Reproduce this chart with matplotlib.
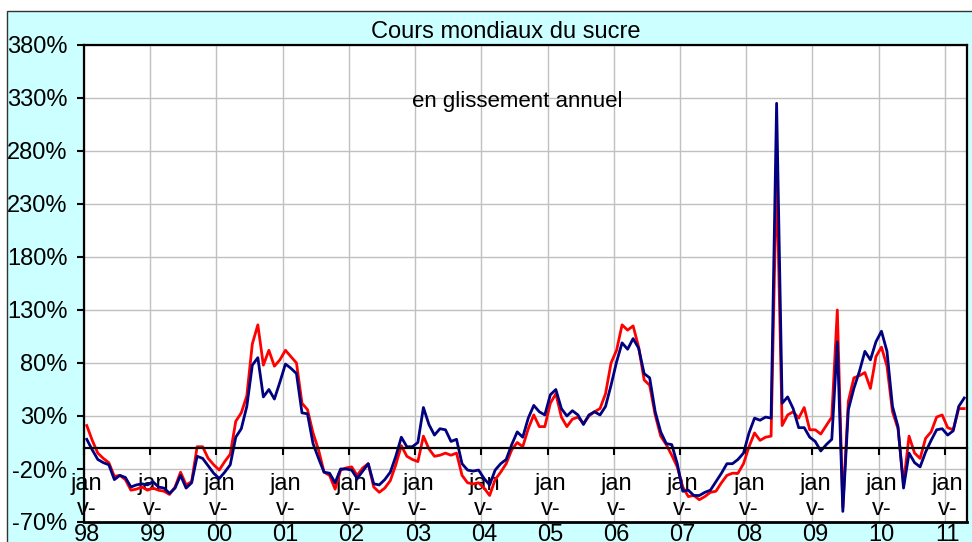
import matplotlib
matplotlib.use("Agg")
import matplotlib.pyplot as plt
from matplotlib.patches import Rectangle
import numpy as np

plt.rcParams['font.family'] = ['Liberation Sans', 'DejaVu Sans']

# Monthly data Jan 1998 .. Apr 2011 (year-on-year change, %)
serie_bleue = [
    8, -2, -11, -14, -16, -30, -26, -28, -37, -35, -34, -35,
    -32, -37, -38, -43, -38, -26, -38, -33, -8, -10, -17, -24,
    -29, -23, -16, 10, 18, 39, 78, 85, 48, 55, 46, 62,
    79, 75, 70, 33, 32, 4, -10, -23, -24, -33, -20, -20,
    -21, -29, -22, -15, -34, -35, -30, -23, -8, 10, 1, 1,
    5, 38, 22, 12, 18, 17, 6, 8, -15, -21, -22, -21,
    -29, -35, -21, -15, -11, 3, 15, 10, 28, 40, 34, 31,
    50, 55, 37, 30, 35, 31, 22, 31, 34, 31, 39, 59,
    81, 99, 93, 103, 94, 70, 66, 34, 15, 4, 3, -15,
    -41, -40, -45, -45, -42, -40, -32, -24, -15, -15, -11, -5,
    14, 28, 26, 29, 28, 325, 42, 48, 37, 19, 19, 10,
    6, -3, 3, 8, 100, -60, 36, 56, 72, 91, 83, 100,
    110, 91, 39, 20, -38, -5, -14, -18, -4, 7, 17, 18,
    12, 16, 39, 47,
]
serie_rouge = [
    21, 7, -5, -10, -14, -27, -26, -30, -40, -39, -37, -40,
    -38, -40, -41, -44, -37, -23, -35, -32, 1, 1, -10, -16,
    -21, -13, -6, 25, 33, 49, 98, 116, 78, 92, 77, 83,
    92, 86, 80, 42, 36, 14, -2, -23, -26, -39, -21, -19,
    -18, -26, -19, -15, -37, -42, -38, -31, -16, 2, -8, -11,
    -13, 11, -1, -8, -7, -5, -7, -5, -26, -33, -34, -33,
    -38, -45, -30, -23, -15, -2, 5, 1, 18, 31, 20, 20,
    42, 51, 29, 20, 27, 29, 23, 30, 34, 37, 51, 80,
    92, 116, 111, 115, 95, 64, 59, 31, 11, 3, -7, -18,
    -37, -46, -45, -49, -46, -42, -41, -33, -26, -24, -24, -15,
    1, 14, 7, 10, 11, 262, 21, 31, 34, 28, 38, 17,
    17, 13, 21, 29, 130, -56, 44, 66, 68, 71, 56, 86,
    95, 77, 34, 18, -34, 11, -5, -10, 9, 15, 29, 31,
    19, 17, 37, 37,
]
annees = ["98", "99", "00", "01", "02", "03", "04", "05", "06", "07", "08", "09", "10", "11"]
y_ticks = list(range(-70, 381, 50))

W, H = 972, 542
fig = plt.figure(figsize=(W / 100, H / 100), dpi=100)
fig.patch.set_facecolor('white')
fig.patches.append(Rectangle((7 / W, -0.05), 1.1, 1 - 11 / H + 0.05,
                             transform=fig.transFigure, facecolor='#CCFFFF',
                             edgecolor='#333333', linewidth=1.0, zorder=-10))

ax = fig.add_axes([84 / W, 1 - 522 / H, (967 - 84) / W, (522 - 45) / H])
ax.set_zorder(2)
ax.set_facecolor('white')

n = len(serie_bleue)
x = np.arange(n) + 0.5
ax.plot(x, serie_bleue, color='#000080', lw=2.0, zorder=4)
ax.plot(x, serie_rouge, color='#FF0000', lw=2.0, zorder=3)

ax.set_xlim(0, n)
ax.set_ylim(-70, 380)

ax.set_yticks(y_ticks)
ax.set_yticklabels([f"{v}%" for v in y_ticks])
ax.tick_params(axis='y', direction='out', length=5, width=1.5, pad=7,
               colors='black', labelsize=17)

major = np.arange(0, n, 12)
ax.set_xticks(major)
ax.set_xticks(major + 0.5, minor=True)
ax.tick_params(axis='x', which='major', direction='out', length=5, width=1.5,
               labelbottom=False)
ax.tick_params(axis='x', which='minor', length=0, pad=18, labelsize=17)
ax.set_xticklabels([], minor=False)
ax.set_xticklabels([f"jan\nv-\n{a}" for a in annees], minor=True)
for lbl in ax.get_xticklabels(minor=True):
    lbl.set_linespacing(1.17)
    lbl.set_fontsize(17)

ax.grid(True, which='major', color='#C0C0C0', lw=1.0, zorder=0)
ax.set_axisbelow(True)

for s in ['left', 'right', 'top']:
    ax.spines[s].set_linewidth(1.6)
    ax.spines[s].set_color('black')
ax.spines['bottom'].set_position(('data', 0))
ax.spines['bottom'].set_linewidth(1.6)
ax.spines['bottom'].set_zorder(5)
ax.axhline(-70, color='black', lw=2.0, clip_on=False, zorder=5)

fig.text(506 / W, 1 - 32 / H, "Cours mondiaux du sucre", fontsize=17,
         ha='center', va='center')
fig.text(517 / W, 1 - 101 / H, "en glissement annuel", fontsize=16,
         ha='center', va='center')

fig.savefig("out.png", dpi=100)
